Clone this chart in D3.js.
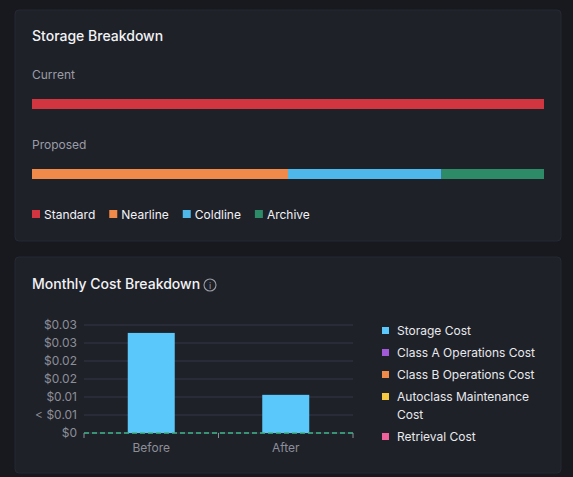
<!DOCTYPE html><html><head><meta charset="utf-8"><script src="https://cdn.jsdelivr.net/npm/d3@7"></script>
<style>body{margin:0;background:#17191e;font-family:Inter,"Noto Sans",sans-serif}</style></head><body><svg id="c" width="573" height="477"></svg><script>
const storageCats=["Standard","Nearline","Coldline","Archive"];
const storageColors=["#d2353f","#f08a4b","#4fb8ea","#2e8b67"];
const currentShares=[1,0,0,0];
const proposedShares=[0.5,0.3,0,0.2];
const proposedOrder=[1,2,3];
const proposedVals=[0.5,0.3,0.2];
const costCats=["Before","After"];
const storageCost=[0.0278,0.0106];
const otherCosts=[0,0];
const yTicks=[0,0.005,0.01,0.015,0.02,0.025,0.03];
const yTickLabels=["$0","< $0.01","$0.01","$0.02","$0.02","$0.03","$0.03"];
const legendNames=["Storage Cost","Class A Operations Cost","Class B Operations Cost","Autoclass Maintenance Cost","Retrieval Cost"];
const legendColors=["#5ac8fa","#a259d9","#f08a4b","#f5c842","#f0609a"];

const svg=d3.select("#c");
svg.append("rect").attr("width",573).attr("height",477).attr("fill","#17191e");
[[15,10,546,231],[15,257,546,216]].forEach(([x,y,w,h])=>svg.append("rect").attr("x",x).attr("y",y).attr("width",w).attr("height",h).attr("rx",4).attr("fill","#1f2129").attr("stroke","#262932"));
svg.append("text").attr("x",32).attr("y",41).attr("fill","#f2f3f5").attr("font-size",14).attr("font-weight",500).text("Storage Breakdown");
svg.append("text").attr("x",32).attr("y",79).attr("fill","#9a9da6").attr("font-size",12).text("Current");
svg.append("text").attr("x",32).attr("y",149).attr("fill","#9a9da6").attr("font-size",12).text("Proposed");
const xs=d3.scaleLinear().domain([0,1]).range([32,544]);
function stack(vals,idx,y){let acc=0;vals.forEach((v,i)=>{svg.append("rect").attr("x",xs(acc)).attr("y",y).attr("width",xs(acc+v)-xs(acc)).attr("height",10).attr("fill",storageColors[idx[i]]);acc+=v;});}
stack([currentShares[0]],[0],99);
stack(proposedVals,proposedOrder,169);
let lx=32;
storageCats.forEach((c,i)=>{svg.append("rect").attr("x",lx).attr("y",210).attr("width",8).attr("height",8).attr("fill",storageColors[i]);
const t=svg.append("text").attr("x",lx+12).attr("y",219).attr("fill","#f2f3f5").attr("font-size",12).text(c);lx+=12+t.node().getComputedTextLength()+14;});

svg.append("text").attr("x",32).attr("y",289).attr("fill","#f2f3f5").attr("font-size",14).attr("font-weight",500).text("Monthly Cost Breakdown");
svg.append("circle").attr("cx",210).attr("cy",285).attr("r",6).attr("fill","none").attr("stroke","#9a9da6").attr("stroke-width",1.1);
svg.append("text").attr("x",210).attr("y",289).attr("text-anchor","middle").attr("fill","#9a9da6").attr("font-size",9).text("i");

const y=d3.scaleLinear().domain([0,0.03]).range([433,325]);
const x=d3.scaleBand().domain(costCats).range([84,353]).paddingInner(0).paddingOuter(0);
const g=svg.append("g");
yTicks.forEach((t,i)=>{g.append("line").attr("x1",84).attr("x2",353).attr("y1",y(t)).attr("y2",y(t)).attr("stroke","#353944");
g.append("text").attr("x",77).attr("y",y(t)+4).attr("text-anchor","end").attr("fill","#8c8f98").attr("font-size",12).text(yTickLabels[i]);});
costCats.forEach((c,i)=>{const bw=47;g.append("rect").attr("x",x(c)+x.bandwidth()/2-bw/2).attr("y",y(storageCost[i])).attr("width",bw).attr("height",y(0)-y(storageCost[i])).attr("fill","#5ac8fa");
g.append("text").attr("x",x(c)+x.bandwidth()/2).attr("y",452).attr("text-anchor","middle").attr("fill","#8c8f98").attr("font-size",12).text(c);});
g.append("line").attr("x1",84).attr("x2",353).attr("y1",y(otherCosts[0])).attr("y2",y(otherCosts[0])).attr("stroke","#3fb58a").attr("stroke-width",1.5).attr("stroke-dasharray","5,3");
[84,218.5,353].forEach(px=>g.append("line").attr("x1",px).attr("x2",px).attr("y1",433).attr("y2",438).attr("stroke","#8c8f98"));

const ly=[331,353,375,397,437];
legendNames.forEach((n,i)=>{svg.append("rect").attr("x",382).attr("y",ly[i]-4).attr("width",7).attr("height",7).attr("fill",legendColors[i]);
const t=svg.append("text").attr("x",397).attr("y",ly[i]+4).attr("fill","#e8e9ec").attr("font-size",12);
if(n==="Autoclass Maintenance Cost"){t.append("tspan").attr("x",397).text("Autoclass Maintenance");t.append("tspan").attr("x",397).attr("dy",18).text("Cost");}else t.text(n);});
</script></body></html>
